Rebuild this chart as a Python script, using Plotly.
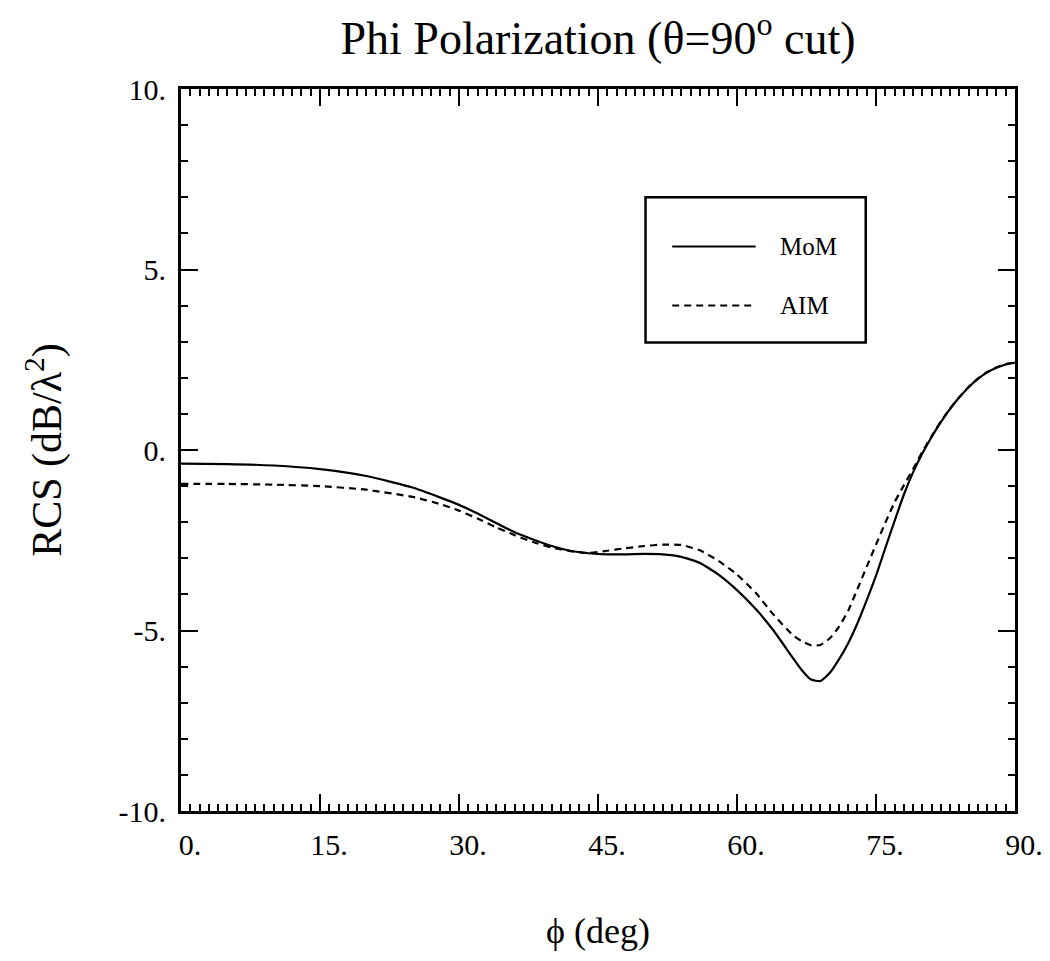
import plotly.graph_objects as go

# ---- data ----
phi_deg = [0, 5, 10, 15, 20, 25, 28, 30, 32, 34, 36, 38, 40, 42, 44, 46, 48, 50,
           52, 54, 56, 58, 60, 62, 64, 66, 67, 68, 69, 70, 71, 72, 73, 74, 75,
           76, 77, 78, 79, 80, 81, 82, 83, 84, 85, 86, 87, 88, 89, 90]

rcs_mom = [-0.38, -0.39, -0.43, -0.53, -0.72, -1.04, -1.32, -1.52, -1.76, -2.02,
           -2.28, -2.48, -2.66, -2.79, -2.86, -2.89, -2.89, -2.88, -2.89, -2.96,
           -3.13, -3.45, -3.88, -4.40, -5.02, -5.75, -6.10, -6.36, -6.40, -6.18,
           -5.80, -5.35, -4.80, -4.16, -3.48, -2.72, -1.97, -1.24, -0.62, -0.10,
           0.36, 0.77, 1.14, 1.46, 1.74, 1.97, 2.15, 2.28, 2.37, 2.42]

rcs_aim = [-0.94, -0.94, -0.96, -1.00, -1.10, -1.30, -1.50, -1.68, -1.90, -2.14,
           -2.36, -2.55, -2.70, -2.80, -2.85, -2.79, -2.72, -2.66, -2.62, -2.63,
           -2.78, -3.07, -3.45, -3.95, -4.58, -5.12, -5.30, -5.41, -5.40, -5.22,
           -4.90, -4.45, -3.85, -3.23, -2.62, -2.02, -1.45, -0.98, -0.53, -0.05,
           0.38, 0.79, 1.15, 1.47, 1.75, 1.98, 2.16, 2.29, 2.38, 2.43]

series_names = ["MoM", "AIM"]

x_tickvals = [0, 15, 30, 45, 60, 75, 90]
x_ticktext = ["0.", "15.", "30.", "45.", "60.", "75.", "90."]
y_tickvals = [-10, -5, 0, 5, 10]
y_ticktext = ["-10.", "-5.", "0.", "5.", "10."]

title_text = "Phi Polarization (θ=90<sup>o</sup> cut)"
x_title = "ϕ (deg)"
y_title = "RCS (dB/λ<sup>2</sup>)"

FONT = "Liberation Serif, Times New Roman, serif"

fig = go.Figure()
fig.add_trace(go.Scatter(
    x=phi_deg, y=rcs_mom, mode="lines", name=series_names[0],
    line=dict(color="black", width=2.2, shape="spline", smoothing=0.5),
    showlegend=False,
))
fig.add_trace(go.Scatter(
    x=phi_deg, y=rcs_aim, mode="lines", name=series_names[1],
    line=dict(color="black", width=2.2, dash="7px,5px", shape="spline", smoothing=0.5),
    showlegend=False,
))

axis_common = dict(
    showline=True, linecolor="black", linewidth=3, mirror="ticks",
    ticks="inside", ticklen=17, tickwidth=2, tickcolor="black",
    showgrid=False, zeroline=False,
    tickfont=dict(family=FONT, size=30, color="black"),
)

fig.update_xaxes(
    range=[0, 90], tickvals=x_tickvals, ticktext=x_ticktext,
    minor=dict(dtick=1, ticks="inside", ticklen=7, tickwidth=1.5, tickcolor="black", showgrid=False),
    ticklabelstandoff=5, ticklabelshift=9,
    title=dict(text=x_title, font=dict(family=FONT, size=36, color="black"), standoff=58),
    **axis_common,
)
fig.update_yaxes(
    range=[-10, 10], tickvals=y_tickvals, ticktext=y_ticktext,
    minor=dict(dtick=1, ticks="inside", ticklen=7, tickwidth=1.5, tickcolor="black", showgrid=False),
    ticklabelstandoff=6,
    title=dict(text=y_title, font=dict(family=FONT, size=42, color="black"), standoff=44),
    **axis_common,
)

# legend box drawn as decoration in paper coordinates
lx0, lx1, ly0, ly1 = 0.557, 0.821, 0.649, 0.850
fig.add_shape(type="rect", xref="paper", yref="paper", x0=lx0, x1=lx1, y0=ly0, y1=ly1,
              line=dict(color="black", width=2.5), fillcolor="white", layer="above")
legend_rows = [(0.782, "solid"), (0.700, "7px,5px")]
for (ry, dash), nm in zip(legend_rows, series_names):
    fig.add_shape(type="line", xref="paper", yref="paper", x0=0.589, x1=0.689, y0=ry, y1=ry,
                  line=dict(color="black", width=2, dash=dash), layer="above")
    fig.add_annotation(xref="paper", yref="paper", x=0.716, y=ry, text=nm, showarrow=False,
                       xanchor="left", yanchor="middle",
                       font=dict(family=FONT, size=25, color="black"))

fig.update_layout(
    width=1050, height=961,
    margin=dict(l=181, r=35, t=89, b=150, autoexpand=False),
    paper_bgcolor="white", plot_bgcolor="white",
    title=dict(text=title_text, x=0.5, xref="paper", xanchor="center",
               y=1 - 38 / 961, yref="container", yanchor="middle",
               font=dict(family=FONT, size=46, color="black")),
)

fig.write_html("out.html")
